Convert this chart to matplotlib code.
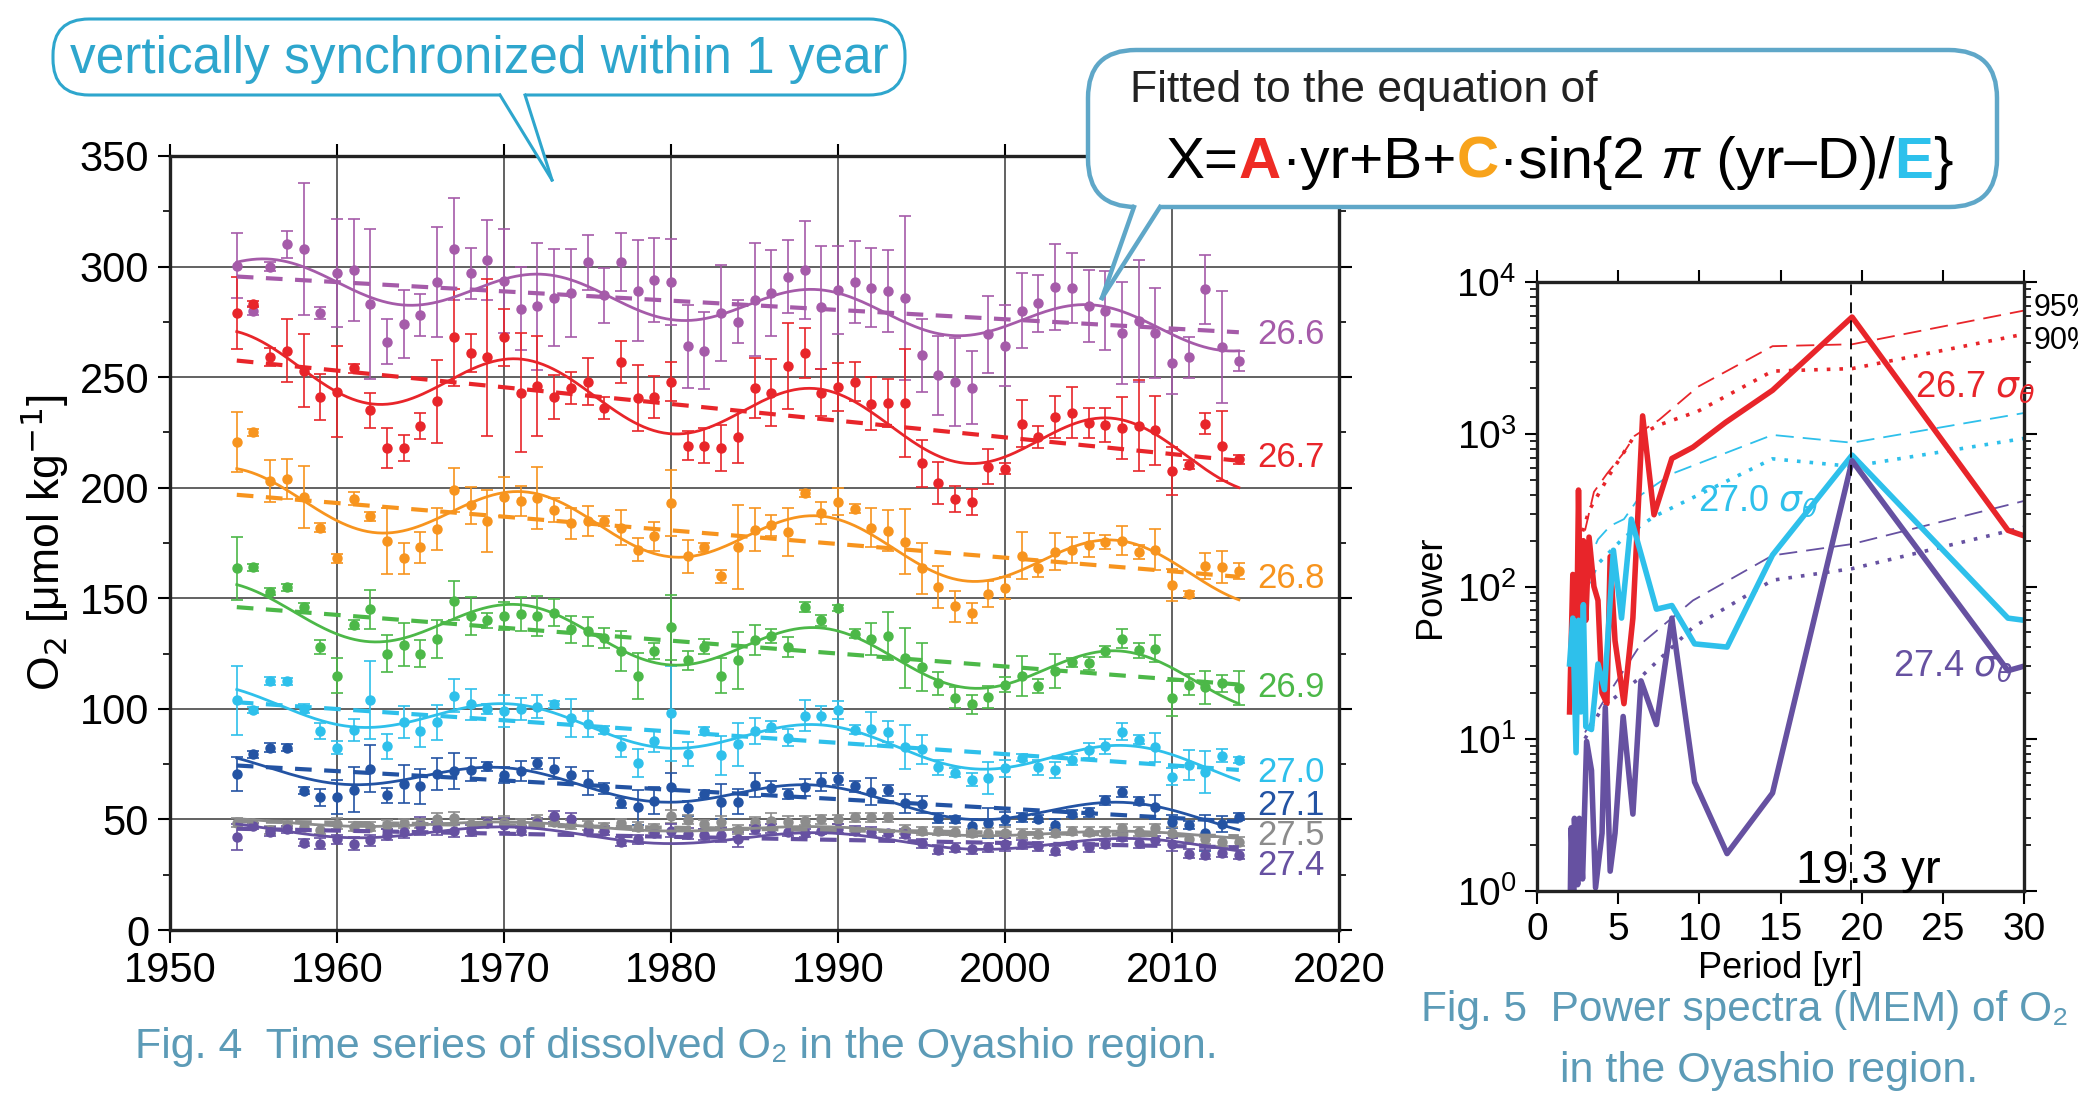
import numpy as np
import matplotlib
matplotlib.use('Agg')
import matplotlib.pyplot as plt
from matplotlib import font_manager
from matplotlib.patches import FancyBboxPatch, Polygon
from matplotlib.lines import Line2D
from matplotlib.transforms import IdentityTransform
from matplotlib.ticker import MultipleLocator

installed = {f.name for f in font_manager.fontManager.ttflist}
narrow = 'Liberation Sans Narrow' if 'Liberation Sans Narrow' in installed else 'Liberation Sans'
plt.rcParams['font.family'] = [narrow, 'DejaVu Sans']

# ---- Fig. 4 data: annual O2 on isopycnals, 1954-2014 ----
years = np.arange(1954, 2015)

o2_266 = [300.3, 280, 300, 310, 308, 279, 297, 298.5, 283, 266, 274, 278, 293, 308, 297, 303, 293.5, 281, 282, 286,
          288, 302, 287, 302, 289, 294, 293, 264, 262, 279, 275, 285, 288, 295.5, 298.5, 281.5, 289.5, 293, 290.4, 288.9,
          285.7, 259.8, 250.8, 247.7, 245.3, 269.3, 264.3, 280.1, 283.4, 290.7, 290.4, 282.2, 280.1, 270, 275.2, 270,
          256.6, 258.9, 289.8, 263.6, 257.5]
err_266 = [14.7, 2, 2, 6, 30, 2.7, 24.3, 23, 34, 10.2, 15.3, 9.5, 24.9, 23, 11.6, 18.2, 23.7, 18.8, 28.7, 22, 20, 12.4,
           12.3, 13, 22.8, 18.9, 19.3, 18.8, 17.4, 21.8, 9.7, 25.5, 19.5, 16.7, 22, 28, 19.8, 18.7, 17.8, 18.5, 37, 16.5,
           17.8, 19.9, 16.6, 17.6, 18.3, 17, 12.8, 19.6, 15.7, 16.2, 18, 23, 27.6, 20.5, 14.2, 9.4, 15.6, 25.2, 4.5]

o2_267 = [279, 283, 259, 262, 253, 241, 243.5, 254, 235, 218, 218, 228, 239, 268, 261, 259, 268, 243, 246, 241, 245, 248,
          236, 257, 240.5, 241, 248, 219, 219, 218, 223, 245, 243, 255, 261, 243, 245.6, 248, 238, 238.4, 238.4, 211,
          202, 195, 193.5, 209.5, 208.6, 229, 223, 232, 234, 229.4, 228.4, 227, 228, 226, 207.6, 210.5, 229, 219, 212.8]
err_267 = [16.3, 1.5, 4, 14.4, 16.7, 10.5, 20.5, 2, 7.8, 9.1, 5.7, 6, 18.6, 22, 8.6, 35.6, 13, 26.8, 22.5, 10, 7.2, 10.6,
           5, 9.5, 15, 9.4, 8.9, 6.5, 7.9, 10.4, 12, 13.5, 15, 19.4, 11.4, 10.5, 10.8, 8.8, 11.9, 10.9, 24.5, 10.5, 9.5,
           6, 6, 8, 2.4, 10.8, 5, 9.6, 11.5, 6.8, 7.8, 14, 20.6, 15.6, 11, 2, 4.7, 15.8, 2]

o2_268 = [220.5, 225, 203, 204, 196, 182, 168, 195, 187, 176, 168, 173, 181.5, 199, 192, 185, 196, 194, 195.5, 190, 184,
          185, 185, 182, 172, 178, 193, 169, 173, 160, 173, 181, 183, 180, 197.5, 188.7, 193.7, 190.5, 182, 180.5,
          175.6, 163.5, 155, 146.5, 143.5, 152, 154.6, 169.3, 163.5, 171, 171.8, 174, 175.4, 176, 171, 172, 156, 152,
          164.7, 164, 162.4]
err_268 = [13.6, 1.5, 9.4, 9, 14, 2, 2, 3, 2, 15, 7, 7, 9.5, 10, 8.5, 14, 8.8, 7, 14, 5.5, 7, 6.8, 2.4, 7.9, 5.2, 6.4,
           15, 7.4, 2, 3, 19, 9.7, 4.8, 11, 1.5, 5, 6.2, 2, 9, 9.3, 14.8, 11.4, 9.4, 7, 4.6, 5.9, 5, 10.5, 4, 8.4, 6,
           5.4, 3.3, 6.5, 3.3, 9.3, 7.4, 1.5, 6, 7.3, 3.6]

o2_269 = [163.5, 164, 153, 155, 146, 128, 115, 138, 145, 125, 129, 125, 131.5, 149, 142, 140, 142, 143, 142, 143.5, 136,
          135, 132, 126, 115, 126, 137, 122, 128, 115, 122, 131, 133, 128, 146, 140, 145.6, 134, 131.7, 133, 123, 119,
          111.6, 105, 102, 105.5, 111, 114.9, 110.5, 117, 121, 120.6, 126, 131.7, 126.5, 127.3, 104.8, 111, 109.7,
          111.6, 109.5]
err_269 = [14.4, 1.5, 1.5, 1.5, 2, 3, 8, 2, 8.8, 8.5, 9.7, 6.2, 8.6, 9, 8.5, 3.3, 6.3, 7.6, 9.2, 6, 6, 6.7, 4.5, 9,
           10.4, 3.6, 14.7, 4.2, 3.4, 7.8, 12.9, 6.8, 3.2, 4.5, 2.4, 2.6, 1.5, 2, 7.2, 11, 13.4, 11, 5.2, 4.8, 4.1, 5,
           3.3, 8.9, 3.1, 7.6, 1.9, 3, 2.5, 4.2, 3.3, 6, 7.8, 4.8, 7.4, 3.9, 7.6]

o2_270 = [104, 99.5, 112.5, 112.5, 100, 90, 82.5, 90.5, 104, 83, 94, 90, 94, 106, 102, 100, 99, 100, 101, 102, 96, 93,
          90.5, 83, 75.5, 85.5, 98, 79.5, 90, 79, 84, 90, 92, 87, 97, 97, 99.4, 90.6, 90.8, 89.7, 82.6, 81.7, 73.5, 71.2,
          68, 68.7, 73.1, 78, 73.5, 72.3, 77.1, 81.3, 83, 89.7, 86, 82.6, 69.3, 74.6, 71.6, 78.8, 76.9]
err_270 = [15.6, 1.5, 1.9, 1.5, 2, 3.7, 3, 4.8, 17.7, 5.5, 7.3, 7.2, 7.9, 7.3, 7.1, 2.2, 7.4, 5.1, 5.3, 1.7, 8.5, 5.9,
           1.8, 4.9, 6.4, 4.8, 21.5, 5.3, 1.7, 8.8, 9.8, 5.7, 2.6, 3.8, 7, 4.3, 4.2, 1.9, 7.6, 4.8, 10, 6.7, 3.6, 1.9,
           2.9, 7.4, 3.8, 1.7, 3.4, 3.6, 2.7, 3.3, 3.3, 3.9, 2.1, 6.7, 3.8, 6.7, 9.5, 2.9, 1.5]

o2_271 = [70.5, 79.5, 82.5, 82.5, 63, 60, 60, 63.5, 73, 61, 66, 65, 70.5, 72, 72.5, 74, 70, 72, 75.5, 73, 70, 66.5, 64,
          57.5, 55.5, 58.5, 64.5, 55, 61.5, 58, 58, 65.5, 64, 61.5, 64.5, 67, 68.3, 65, 62.6, 63.2, 57.4, 56.9, 50.6, 50,
          47.1, 48.5, 50.4, 51, 50.4, 47.7, 52.5, 53.2, 58.6, 62.4, 58.2, 55.7, 49, 47.5, 43.7, 47.9, 51.3]
err_271 = [7.6, 1.5, 2, 1.5, 1.5, 3.9, 7.7, 10, 10.5, 3.4, 8.7, 7.9, 7.3, 8.1, 5.1, 1.9, 3.6, 4.4, 2.5, 4.8, 3.8, 5.3,
           2.6, 2.1, 7.8, 6, 6.4, 3.4, 1.9, 7.9, 5.7, 5.5, 3.4, 2.1, 3.9, 4.2, 2.6, 2.4, 6.1, 2.6, 4.3, 3.8, 2.4, 1.7, 3,
           6.7, 3.1, 2.1, 1.6, 2.6, 1.6, 1.9, 2.1, 2.4, 1.8, 5.5, 2.9, 1.6, 8.1, 3.6, 1.6]

o2_275 = [48.6, 48.3, 45.2, 47.6, 46.8, 45.3, 48, 46.8, 46.8, 47.6, 48.3, 48.3, 50.2, 50.5, 48, 49, 49, 48.3, 49.8, 49,
          47.9, 47.3, 46.4, 48.3, 46.8, 46, 51.5, 49.8, 47.9, 49, 45.3, 49, 49.4, 49, 49.4, 50, 50, 51, 51, 51, 45.4,
          44.8, 44.8, 44.5, 43.9, 44, 44, 43.5, 43.5, 44, 44.8, 44.5, 44.5, 46, 44.5, 46, 44, 41, 41, 40, 40]
err_275 = [2, 1.5, 2, 1.5, 2, 2, 2.5, 2, 2, 2, 2, 2, 2.5, 3, 2, 2, 2.5, 2, 2, 2, 2, 2, 2, 2, 2, 2, 3, 2, 2, 2.5, 2, 2,
           3.5, 2.5, 2, 2, 2, 2, 2, 2, 2, 2, 2, 2, 2, 2, 2.5, 2, 2, 2, 2, 2, 2, 2, 2, 2, 2.5, 2, 2, 2, 2]

o2_274 = [42, 47, 44.5, 45.5, 39.5, 39, 41, 39, 40.5, 43, 44.5, 47, 46, 45, 45, 48.5, 47.5, 45, 48.5, 51.5, 50, 45, 45,
          40, 41, 44, 45, 43.5, 43, 43, 41, 45.5, 46, 44.5, 43.9, 45, 45.8, 45, 44.5, 43.9, 43.5, 39.3, 36.3, 37.2, 36.8,
          37.4, 38.7, 38.7, 37.8, 35.9, 38.4, 37.4, 38.7, 42.2, 39.3, 40.6, 38.7, 34.5, 34, 34.9, 34]
err_274 = [5.8, 1.5, 2, 1.5, 1.5, 2.5, 2, 3, 2.5, 2.5, 3, 4, 3, 3, 2.5, 2, 3, 2, 2, 2.5, 3, 2, 2, 2, 2, 2, 3, 2.5,
           2.5, 3, 3.5, 2, 2, 2, 2, 1.5, 2, 2, 2, 1.5, 2, 2, 2, 2, 2.5, 2, 3, 2, 2, 2, 1.5, 2, 1.5, 2, 2, 2, 3, 2, 2, 2, 2]

sigma_labels = ['26.6', '26.7', '26.8', '26.9', '27.0', '27.1', '27.5', '27.4']
colors = ['#a55ba9', '#e8252a', '#f7941e', '#4cb848', '#2ec0eb', '#2353a3', '#8c8c8c', '#6651a1']
label_y = [269.5, 213.7, 158.8, 109.5, 71.4, 56.2, 42.9, 29.2]

# fitted X = A*yr + B + C*sin(2*pi*(yr-D)/E)
fit_A = [-0.42, -0.755, -0.618, -0.583, -0.51, -0.423, -0.113, -0.14]
fit_B = [1116.18, 1732.77, 1404.37, 1285.18, 1099.54, 900.94, 270.0, 319.36]
fit_C = [8.7, 13.5, 12.0, 11.0, 7.6, 5.8, 1.5, 3.1]
fit_D = [1984.6, 1984.3, 1984.5, 1984.4, 1984.3, 1983.9, 1984.3, 1984.3]
fit_E = [16.4, 17.7, 17.7, 18.0, 18.5, 18.7, 18.5, 18.7]

# ---- Fig. 5 data: MEM power spectra ----
period_267 = [2.0, 2.2, 2.4, 2.55, 2.7, 2.85, 3.0, 3.2, 3.5, 3.75, 4.0, 4.3, 4.5, 4.8, 5.35, 5.9, 6.5, 7.2, 8.3, 9.6,
              11.6, 14.5, 19.4, 29.0, 30.0]
power_267 = [15, 120, 20, 430, 40, 200, 60, 211, 100, 81, 20, 17, 157, 44, 17, 62, 1320, 296, 693, 822, 1195, 1945,
             5890, 234, 215]
period_270 = [2.0, 2.2, 2.4, 2.55, 2.7, 2.85, 3.0, 3.35, 3.75, 4.15, 4.7, 5.2, 5.8, 7.35, 8.3, 9.7, 11.7, 14.5, 19.4,
              29.0, 30.0]
power_270 = [31, 62, 8.1, 60, 15, 76, 12, 11.5, 31, 21, 173, 62, 277, 71, 75, 42, 40, 161, 730, 62, 60]
period_274 = [2.05, 2.1, 2.25, 2.3, 2.5, 2.6, 2.8, 3.05, 3.35, 3.6, 4.0, 4.2, 4.5, 4.8, 5.3, 5.9, 6.4, 7.35, 8.3, 9.7,
              11.7, 14.5, 19.4, 29.0, 30.0]
power_274 = [1, 2.6, 1, 3, 1.1, 3, 1.2, 9.6, 6.2, 1.05, 2.4, 16, 1.35, 2.4, 14, 3.2, 24, 12.4, 62, 5.2, 1.76, 4.4, 670,
             28, 30]

sig95_period_267 = [2.95, 3.5, 4.3, 5.35, 6.0, 7.5, 9.9, 14.5, 19.4, 30]
sig95_267 = [233, 418, 550, 760, 975, 1240, 2050, 3790, 3900, 6500]
sig90_period_267 = [2.8, 3.2, 4.5, 5.9, 7.5, 9.9, 14.5, 19.4, 30]
sig90_267 = [230, 316, 550, 940, 1150, 1415, 2600, 2700, 4550]
sig95_period_270 = [2.95, 3.75, 4.5, 5.35, 6.4, 8.3, 14.5, 19.4, 30]
sig95_270 = [131, 204, 250, 277, 400, 550, 990, 880, 1380]
sig90_period_270 = [2.8, 3.75, 5.35, 7.2, 14.5, 19.4, 30]
sig90_270 = [87, 141, 210, 288, 690, 615, 940]
sig_period_274 = [2.95, 4.0, 6.4, 9.6, 14.5, 19.4, 30]
sig95_274 = [11, 17, 42, 81, 160, 190, 365]
sig90_274 = [10, 16, 25.5, 54, 110, 131, 245]
peak_period = 19.36

W, H = 2078, 1097
fig = plt.figure(figsize=(W / 100, H / 100), dpi=100)

# ---------------- left panel ----------------
ax = fig.add_axes([0.0818, 0.1522, 0.5626, 0.7056])
series = [o2_266, o2_267, o2_268, o2_269, o2_270, o2_271, o2_275, o2_274]
errors = [err_266, err_267, err_268, err_269, err_270, err_271, err_275, err_274]
yr = np.linspace(1954, 2014, 400)
for vals, errs, col, lab, ly, A, B, C, D, E in zip(series, errors, colors, sigma_labels, label_y,
                                                   fit_A, fit_B, fit_C, fit_D, fit_E):
    ax.errorbar(years, vals, yerr=errs, fmt='o', color=col, ms=6.5, elinewidth=1.2, capsize=4.5,
                capthick=1.2, zorder=3)
    ax.plot(yr, A * yr + B, color=col, lw=3, dashes=(4, 3), zorder=4)
    ax.plot(yr, A * yr + B + C * np.sin(2 * np.pi * (yr - D) / E), color=col, lw=2, zorder=4)
    ax.text(2015.1, ly, lab, color=col, fontsize=25, va='center', clip_on=False)

ax.set_xlim(1950, 2020)
ax.set_ylim(0, 350)
ax.set_xticks(range(1950, 2021, 10))
ax.set_yticks(range(0, 351, 50))
ax.yaxis.set_minor_locator(MultipleLocator(25))
ax.grid(True, color='#555555', lw=1.3, zorder=0)
ax.tick_params(which='major', direction='out', length=9, width=1.5, top=True, right=True, labelsize=30, pad=6)
ax.tick_params(which='minor', direction='out', length=5, width=1.2, right=True)
for s in ax.spines.values():
    s.set_linewidth(2.4)
    s.set_color('#222222')
ax.set_ylabel('O$_2$ [μmol kg$^{-1}$]', fontsize=32, labelpad=6)

# ---------------- right panel ----------------
ax2 = fig.add_axes([0.7397, 0.1878, 0.2344, 0.5551])
ax2.plot(sig95_period_267, sig95_267, color=colors[1], lw=1.3, dashes=(10, 5))
ax2.plot(sig90_period_267, sig90_267, color=colors[1], lw=2.6, dashes=(1, 2.5))
ax2.plot(sig95_period_270, sig95_270, color=colors[4], lw=1.3, dashes=(10, 5))
ax2.plot(sig90_period_270, sig90_270, color=colors[4], lw=2.6, dashes=(1, 2.5))
ax2.plot(sig_period_274, sig95_274, color=colors[7], lw=1.3, dashes=(10, 5))
ax2.plot(sig_period_274, sig90_274, color=colors[7], lw=2.6, dashes=(1, 2.5))
ax2.plot(period_267, power_267, color=colors[1], lw=4)
ax2.plot(period_270, power_270, color=colors[4], lw=4)
ax2.plot(period_274, power_274, color=colors[7], lw=4)
ax2.axvline(peak_period, color='black', lw=1.3, dashes=(6, 4))

ax2.set_yscale('log')
ax2.set_xlim(0, 30)
ax2.set_ylim(1, 1e4)
ax2.set_xticks(range(0, 31, 5))
ax2.tick_params(which='major', direction='out', length=9, width=1.5, top=True, right=True, labelsize=28, pad=6)
ax2.tick_params(which='minor', direction='out', length=5, width=1.2, right=True)
for s in ax2.spines.values():
    s.set_linewidth(2.4)
    s.set_color('#222222')
ax2.set_xlabel('Period [yr]', fontsize=26, labelpad=2)
ax2.set_ylabel('Power', fontsize=26, labelpad=6)

ax2.text(20.4, 1.12, '19.3 yr', fontsize=34, ha='center', va='baseline')
ax2.text(23.3, 2040, '26.7 $\\sigma_\\theta$', color=colors[1], fontsize=26, va='center')
ax2.text(9.9, 363, '27.0 $\\sigma_\\theta$', color=colors[4], fontsize=26, va='center')
ax2.text(21.9, 30, '27.4 $\\sigma_\\theta$', color=colors[7], fontsize=26, va='center')
ax2.text(30.6, 6800, '95%', fontsize=22, va='center', clip_on=False)
ax2.text(30.6, 4100, '90%', fontsize=22, va='center', clip_on=False)

# ---------------- speech bubbles (pixel coords, y measured from top) ----------------
px = IdentityTransform()


def bubble(x0, y0, x1, y1, rad, base, tip, color, lw):
    box = FancyBboxPatch((x0, H - y1), x1 - x0, y1 - y0, boxstyle=f'round,pad=0,rounding_size={rad}',
                         transform=px, facecolor='white', edgecolor=color, lw=lw, zorder=10)
    fig.add_artist(box)
    cover = Polygon([(base[0], H - y1 + 5), (base[0], H - y1), (tip[0], H - tip[1]), (base[1], H - y1),
                     (base[1], H - y1 + 5)], closed=True, transform=px, facecolor='white', edgecolor='none',
                    zorder=11)
    fig.add_artist(cover)
    for bx in base:
        fig.add_artist(Line2D([bx, tip[0]], [H - y1, H - tip[1]], transform=px, color=color, lw=lw, zorder=12))


bubble(53, 19, 905, 95, 36, (500, 525), (552, 180), '#2ea6cd', 2.2)
fig.text(479, H - 59, 'vertically synchronized within 1 year', transform=px, fontsize=37, color='#2ea6cd',
         ha='center', va='center', zorder=13)

bubble(1088, 50, 1997, 207, 48, (1134, 1160), (1102, 298), '#5fa7c8', 3.2)
fig.text(1130, H - 102, 'Fitted to the equation of', transform=px, fontsize=32, color='#222222',
         va='baseline', zorder=13)

eq_parts = [('X=', 'black', 'normal', 'normal'), ('A', '#ee2b24', 'bold', 'normal'),
            ('·yr+B+', 'black', 'normal', 'normal'), ('C', '#f8a31b', 'bold', 'normal'),
            ('·sin{2 ', 'black', 'normal', 'normal'), ('π', 'black', 'normal', 'italic'),
            (' (yr–D)/', 'black', 'normal', 'normal'), ('E', '#2dc1ec', 'bold', 'normal'),
            ('}', 'black', 'normal', 'normal')]
renderer = fig.canvas.get_renderer()
x_cur = 1166
for s, c, wgt, sty in eq_parts:
    t = fig.text(x_cur, H - 178, s, transform=px, fontsize=42, color=c, fontweight=wgt, fontstyle=sty,
                 va='baseline', zorder=13)
    x_cur = t.get_window_extent(renderer).x1

# ---------------- captions ----------------
cap_color = '#5c9bb7'
fig.text(676, H - 1047, 'Fig. 4  Time series of dissolved O₂ in the Oyashio region.', transform=px,
         fontsize=31, color=cap_color, ha='center', va='center')
fig.text(1421, H - 1010, 'Fig. 5  Power spectra (MEM) of O₂', transform=px, fontsize=30.5, color=cap_color,
         ha='left', va='center')
fig.text(1769, H - 1071, 'in the Oyashio region.', transform=px, fontsize=31, color=cap_color,
         ha='center', va='center')

fig.savefig('out.png', dpi=100)
